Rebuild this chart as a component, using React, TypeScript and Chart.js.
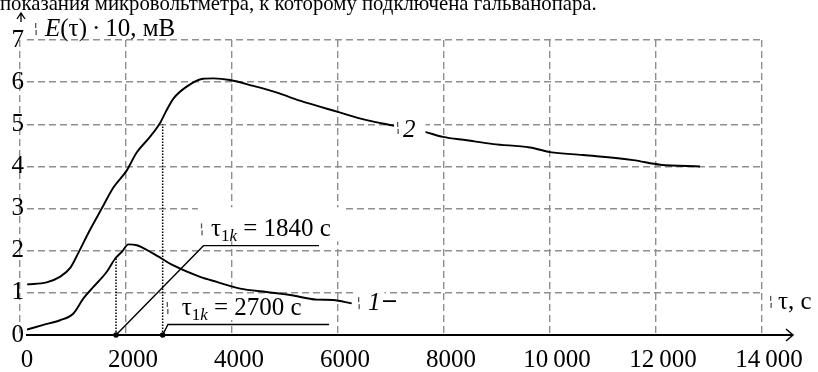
import React, { useEffect, useRef } from 'react';
import { Chart, registerables } from 'chart.js';

Chart.register(...registerables);

// ---- data ----
const xTicks = [0, 2000, 4000, 6000, 8000, 10000, 12000, 14000];
const yTicks = [0, 1, 2, 3, 4, 5, 6, 7];

// curve 2 (upper)
const curve2X = [132, 500, 750, 950, 1100, 1300, 1540, 1760, 2010, 2200, 2450, 2650, 2750, 2900, 3150, 3450, 3650, 3960, 4400, 4850, 5280, 5980, 6540, 7040, 7640, 7980, 8430, 8930, 9620, 10000, 10620, 11570, 12080, 12830];
const curve2Y = [1.2, 1.25, 1.38, 1.6, 1.95, 2.45, 3.0, 3.5, 3.9, 4.33, 4.7, 5.05, 5.3, 5.62, 5.9, 6.08, 6.09, 6.05, 5.91, 5.75, 5.56, 5.3, 5.1, 4.97, 4.82, 4.7, 4.62, 4.53, 4.45, 4.34, 4.27, 4.15, 4.04, 4.0];

// curve 1 (lower)
const curve1X = [130, 440, 755, 1006, 1195, 1383, 1636, 1792, 1919, 2043, 2202, 2515, 2893, 3396, 3711, 4151, 4655, 5094, 5598, 5906, 6258];
const curve1Y = [0.13, 0.24, 0.35, 0.51, 0.87, 1.14, 1.5, 1.81, 1.97, 2.15, 2.13, 1.93, 1.65, 1.38, 1.26, 1.1, 1.02, 0.95, 0.84, 0.83, 0.75];

// characteristic times (dotted drop lines)
const tau1X = 1810;
const tau1Level = 1.82;
const tau2X = 2690;
const tau2Level = 5.0;

// leader lines of the two annotations
const leader1X = [1810, 3460, 5640];
const leader1Y = [0, 2.12, 2.12];
const leader2X = [2690, 2790, 5830];
const leader2Y = [0, 0.25, 0.25];

// texts
const captionText = 'показания микровольтметра, к которому подключена гальванопара.';
const label1840 = ' = 1840 с';
const label2700 = ' = 2700 с';
const curveName1 = '1';
const curveName2 = '2';
const xAxisName = 'τ, с';

// annotation anchors (data coordinates)
const anchorA = { x: 3600, y: 2.34 };
const anchorB = { x: 3049, y: 0.475 };
const anchor2 = { x: 7225, y: 4.7 };
const anchor1 = { x: 6565, y: 0.59 };
const anchorAxis = { x: 14302, y: 0.62 };

const FAMILY = '"Liberation Serif", "Times New Roman", serif';
const font = (size: number, italic = false) => `${italic ? 'italic ' : ''}${size}px ${FAMILY}`;

type Run = { t: string; size: number; italic?: boolean; dy?: number };

function runsWidth(ctx: CanvasRenderingContext2D, runs: Run[]) {
  let w = 0;
  for (const r of runs) {
    ctx.font = font(r.size, r.italic);
    w += ctx.measureText(r.t).width;
  }
  return w;
}
function drawRuns(ctx: CanvasRenderingContext2D, x: number, y: number, runs: Run[]) {
  let cx = x;
  for (const r of runs) {
    ctx.font = font(r.size, r.italic);
    ctx.fillText(r.t, cx, y + (r.dy || 0));
    cx += ctx.measureText(r.t).width;
  }
  return cx;
}
function artifact(ctx: CanvasRenderingContext2D, x: number, y: number) {
  ctx.save();
  ctx.fillStyle = '#555';
  ctx.fillRect(x, y - 13, 1.3, 5);
  ctx.fillRect(x + 0.5, y - 6, 1.3, 5);
  ctx.restore();
}

const tauRuns = (rest: string): Run[] => [
  { t: 'τ', size: 25 },
  { t: '1', size: 17, dy: 5 },
  { t: 'k', size: 17, italic: true, dy: 5 },
  { t: rest, size: 25 },
];

const annotations = {
  id: 'annotations',
  beforeDatasetsDraw(chart: any) {
    const { ctx, scales } = chart;
    const x = scales.x.getPixelForValue(anchorB.x);
    const y = scales.y.getPixelForValue(anchorB.y);
    const runs = tauRuns(label2700);
    const w = runsWidth(ctx, runs);
    ctx.save();
    ctx.fillStyle = '#fff';
    ctx.fillRect(x - 17, y - 21, w + 21, 26);
    ctx.fillStyle = '#000';
    ctx.textBaseline = 'alphabetic';
    ctx.textAlign = 'left';
    drawRuns(ctx, x, y, runs);
    artifact(ctx, x - 15, y);
    ctx.restore();
  },
  afterDatasetsDraw(chart: any) {
    const { ctx, scales, chartArea } = chart;
    const sx = scales.x;
    const sy = scales.y;
    ctx.save();
    ctx.textBaseline = 'alphabetic';
    ctx.textAlign = 'left';

    // annotation A
    {
      const x = sx.getPixelForValue(anchorA.x);
      const y = sy.getPixelForValue(anchorA.y);
      const runs = tauRuns(label1840);
      const w = runsWidth(ctx, runs);
      ctx.fillStyle = '#fff';
      ctx.fillRect(x - 13, y - 29, w + 27, 34);
      ctx.fillStyle = '#000';
      drawRuns(ctx, x, y, runs);
      artifact(ctx, x - 10, y);
    }
    // curve label 2
    {
      const x = sx.getPixelForValue(anchor2.x);
      const y = sy.getPixelForValue(anchor2.y);
      ctx.font = font(25, true);
      const w = ctx.measureText(curveName2).width;
      ctx.fillStyle = '#fff';
      ctx.fillRect(x - 9, y - 23, w + 19, 28);
      ctx.fillStyle = '#000';
      ctx.fillText(curveName2, x, y);
      artifact(ctx, x - 6, y - 2);
    }
    // curve label 1
    {
      const x = sx.getPixelForValue(anchor1.x);
      const y = sy.getPixelForValue(anchor1.y);
      ctx.font = font(25, true);
      const w = ctx.measureText(curveName1).width;
      ctx.fillStyle = '#fff';
      ctx.fillRect(x - 15, y - 19, w + 19, 23);
      ctx.fillStyle = '#000';
      ctx.fillText(curveName1, x, y);
      artifact(ctx, x - 10, y);
      ctx.strokeStyle = '#000';
      ctx.lineWidth = 1.8;
      ctx.beginPath();
      ctx.moveTo(x + 15, y - 9);
      ctx.lineTo(x + 28, y - 9);
      ctx.stroke();
    }
    // x axis extension + arrow
    {
      const yb = chartArea.bottom;
      ctx.strokeStyle = '#000';
      ctx.lineWidth = 2;
      ctx.beginPath();
      ctx.moveTo(chartArea.right - 1, yb);
      ctx.lineTo(chartArea.right + 31, yb);
      ctx.stroke();
      ctx.lineWidth = 1.5;
      ctx.beginPath();
      ctx.moveTo(chartArea.right + 24, yb - 6);
      ctx.lineTo(chartArea.right + 31, yb);
      ctx.lineTo(chartArea.right + 24, yb + 6);
      ctx.stroke();
      const x = sx.getPixelForValue(anchorAxis.x);
      const y = sy.getPixelForValue(anchorAxis.y);
      ctx.fillStyle = '#000';
      ctx.font = font(25);
      ctx.fillText(xAxisName, x, y);
      artifact(ctx, x - 8, y);
    }
    // y axis arrow + title
    {
      const ax = chartArea.left - 6;
      ctx.strokeStyle = '#000';
      ctx.lineWidth = 1.3;
      ctx.beginPath();
      ctx.moveTo(ax - 4, 19);
      ctx.lineTo(ax, 13);
      ctx.lineTo(ax + 4, 19);
      ctx.moveTo(ax, 13);
      ctx.lineTo(ax, 22);
      ctx.stroke();
      artifact(ctx, chartArea.left + 8, 36);
      ctx.fillStyle = '#000';
      drawRuns(ctx, chartArea.left + 18, chartArea.top - 4, [
        { t: 'E', size: 25, italic: true },
        { t: '(τ)\u2009·\u200910, мВ', size: 25 },
      ]);
    }
    // caption (cut off at the top)
    {
      ctx.font = font(25);
      const w = ctx.measureText(captionText).width;
      const size = (25 * 597) / w;
      ctx.font = font(size);
      ctx.fillStyle = '#000';
      ctx.fillText(captionText, 0, 10);
    }
    ctx.restore();
  },
};

const fmtX = (v: number) =>
  v >= 10000 ? `${Math.floor(v / 1000)}\u2009${String(v % 1000).padStart(3, '0')}` : String(v);

export default function App() {
  const ref = useRef<HTMLCanvasElement | null>(null);
  useEffect(() => {
    if (!ref.current) return;
    const black = '#000';
    const lineDs = (xs: number[], ys: number[], extra: any = {}) => ({
      data: xs.map((x, i) => ({ x, y: ys[i] })),
      borderColor: black,
      backgroundColor: black,
      borderWidth: 1.5,
      pointRadius: 0,
      fill: false,
      tension: 0,
      ...extra,
    });
    const chart = new Chart(ref.current, {
      type: 'line',
      data: {
        datasets: [
          lineDs(curve2X, curve2Y, { borderWidth: 1.9, cubicInterpolationMode: 'monotone' }),
          lineDs(curve1X, curve1Y, { borderWidth: 1.9, cubicInterpolationMode: 'monotone' }),
          lineDs([tau1X, tau1X], [0, tau1Level], { borderDash: [1.5, 1.5] }),
          lineDs([tau2X, tau2X], [0, tau2Level], { borderDash: [1.5, 1.5] }),
          lineDs(leader1X, leader1Y, { borderWidth: 1.4 }),
          lineDs(leader2X, leader2Y, { borderWidth: 1.4 }),
          lineDs([tau1X, tau2X], [0, 0], { showLine: false, pointRadius: 2, clip: false }),
        ],
      } as any,
      options: {
        responsive: false,
        animation: false,
        events: [],
        layout: { padding: { top: 40, right: 56, left: 0, bottom: 0 } },
        plugins: { legend: { display: false }, tooltip: { enabled: false }, title: { display: false } },
        scales: {
          x: {
            type: 'linear',
            min: 130,
            max: 14000,
            afterBuildTicks: (s: any) => {
              s.ticks = xTicks.map((value) => ({ value }));
            },
            afterFit: (s: any) => {
              s.height = 37;
            },
            ticks: {
              autoSkip: false,
              maxRotation: 0,
              labelOffset: 7,
              padding: 10,
              color: black,
              font: { family: FAMILY, size: 25 },
              callback: (v: any) => fmtX(Number(v)),
            },
            grid: { color: '#8f8f8f', lineWidth: 1.4, drawTicks: false },
            border: { display: true, color: black, width: 2, dash: [7, 4] },
          },
          y: {
            type: 'linear',
            min: 0,
            max: 7,
            afterBuildTicks: (s: any) => {
              s.ticks = yTicks.map((value) => ({ value }));
            },
            afterFit: (s: any) => {
              s.width = 27;
            },
            ticks: {
              padding: 3,
              color: black,
              font: { family: FAMILY, size: 25 },
              callback: (v: any) => String(v),
            },
            grid: { color: '#8f8f8f', lineWidth: 1.4, drawTicks: false },
            border: { display: false, dash: [7, 4] },
          },
        },
      } as any,
      plugins: [annotations as any],
    });
    return () => chart.destroy();
  }, []);
  return (
    <div style={{ position: 'absolute', left: 0, top: 0, width: 818, height: 372, background: '#fff' }}>
      <canvas ref={ref} width={818} height={372} style={{ display: 'block' }} />
    </div>
  );
}
